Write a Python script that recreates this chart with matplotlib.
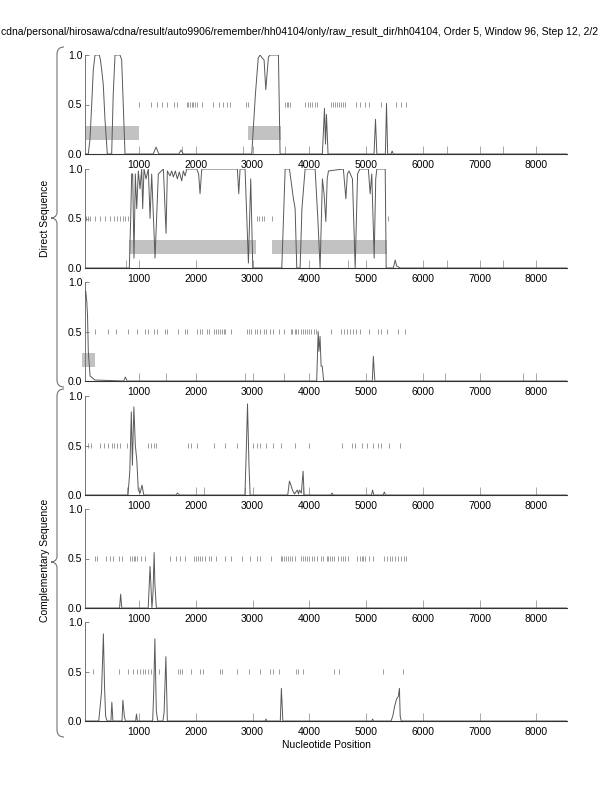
import matplotlib
matplotlib.use("Agg")
import matplotlib.pyplot as plt
from matplotlib.patches import Rectangle, PathPatch
from matplotlib.path import Path

plt.rcParams['font.family'] = ['Liberation Sans', 'DejaVu Sans']

title = "cdna/personal/hirosawa/cdna/result/auto9906/remember/hh04104/only/raw_result_dir/hh04104, Order 5, Window 96, Step 12, 2/2"
xticks = [1000, 2000, 3000, 4000, 5000, 6000, 7000, 8000]
yticks = [0.0, 0.5, 1.0]
ylabels = ["0.0", "0.5", "1.0"]
seq_start = 48
seq_end = 8540

# panel 1 (direct, frame 1)
p1_x = [48, 106, 136, 166, 194, 224, 300, 320, 342, 370, 400, 441, 518, 545, 577, 665, 694, 753,
        1250, 1300, 1350, 1700, 1740, 1780, 2986, 3050, 3100, 3133, 3170, 3203, 3233, 3280, 3309,
        3456, 3485, 4230, 4267, 4285, 4302, 4330, 5140, 5166, 5190, 5340, 5360, 5380, 5440, 5460,
        5480, 8540]
p1_y = [0, 0, 0.15, 0.5, 0.85, 1.0, 1.0, 0.95, 0.85, 0.7, 0.35, 0, 0, 0.6, 1.0, 1.0, 0.95, 0,
        0, 0.07, 0, 0, 0.04, 0, 0, 0.6, 0.97, 1.0, 0.97, 0.95, 0.65, 0.98, 1.0,
        1.0, 0, 0, 0.46, 0.1, 0.4, 0, 0, 0.35, 0, 0, 0.51, 0, 0, 0.03,
        0, 0]
p1_boxes = [(48, 1005), (2927, 3503)]
p1_marks = [1005, 1211, 1322, 1404, 1498, 1621, 1664, 1840, 1868, 1898, 1928, 1956, 1986, 2027,
            2115, 2299, 2415, 2486, 2546, 2604, 2886, 2916, 3574, 3604, 3632, 3661, 3924, 3970,
            4010, 4050, 4097, 4143, 4379, 4414, 4450, 4485, 4520, 4555, 4591, 4626, 4825, 4896,
            4984, 5060, 5261, 5525, 5614, 5695]
p1_minor = [1752, 2840, 3574, 6424, 7420]

# panel 2
p2_x = [48, 829, 853, 870, 888, 911, 935, 959, 988, 1017, 1047, 1064, 1088, 1123, 1164, 1194,
        1223, 1282, 1340, 1429, 1476, 1499, 1546, 1575, 1605, 1640, 1675, 1710, 1752, 1780, 1811,
        1840, 2016, 2050, 2075, 2105, 2733, 2757, 2780, 2868, 2927, 2968, 3004, 3515, 3545, 3574,
        3650, 3685, 3720, 3750, 3779, 3838, 3870, 3926, 4102, 4150, 4190, 4231, 4260, 4291, 4315,
        4337, 4600, 4644, 4670, 4700, 4760, 4808, 4850, 4890, 5040, 5072, 5100, 5143, 5170, 5190,
        5337, 5354, 5480, 5513, 5540, 5600, 8540]
p2_y = [0, 0, 0.5, 0.95, 0.95, 0.1, 0.95, 0.6, 0.98, 0.8, 1.0, 0.6, 1.0, 0.9, 1.0, 0.5,
        0.95, 0.1, 0.95, 1.0, 0.35, 0.98, 0.93, 0.98, 0.92, 0.98, 0.9, 0.97, 0.88, 0.98, 0.93,
        1.0, 1.0, 0.95, 0.75, 1.0, 1.0, 0.75, 1.0, 1.0, 0.05, 0.9, 0, 0, 0.5, 1.0,
        1.0, 0.85, 0.7, 0.6, 0, 0, 0.6, 1.0, 1.0, 0.5, 0, 0.9, 0.75, 0.47, 0.9,
        0.98, 1.0, 0.7, 0.95, 0.98, 0.9, 0, 0.95, 1.0, 1.0, 0.75, 0.95, 0.1, 0.9, 1.0,
        1.0, 0, 0, 0.08, 0.02, 0, 0]
p2_boxes = [(829, 3063), (3344, 5377)]
p2_marks = [65, 106, 136, 224, 312, 400, 488, 564, 617, 665, 712, 753, 811,
            3075, 3115, 3163, 3203, 3339, 5390]
p2_minor = [765, 4685, 6424, 7420]

# panel 3
p3_x = [48, 60, 80, 93, 106, 138, 222, 730, 760, 790, 4130, 4156, 4170, 4189, 4208, 4227, 4253,
        5110, 5128, 5154, 8540]
p3_y = [0.85, 0.91, 0.8, 0.65, 0.3, 0.05, 0.01, 0, 0.04, 0, 0, 0.5, 0.3, 0.45, 0.15, 0.15, 0,
        0, 0.25, 0, 0]
p3_boxes = [(0, 224)]
p3_marks = [222, 462, 592, 806, 968, 1097, 1162, 1259, 1324, 1454, 1486, 1680, 1810, 1842, 2017,
            2069, 2101, 2199, 2231, 2315, 2361, 2393, 2426, 2458, 2490, 2523, 2620, 2899, 2944,
            2976, 3041, 3087, 3138, 3203, 3236, 3301, 3365, 3462, 3547, 3676, 3702, 3741, 3767,
            3806, 3845, 3884, 3923, 3962, 4000, 4033, 4078, 4110, 4389, 4564, 4609, 4661, 4713,
            4765, 4817, 4888, 5050, 5212, 5257, 5374, 5555, 5685]
p3_minor = [1473, 2860, 3560, 6393, 7767]

# panel 4 (complementary)
p4_x = [48, 806, 838, 864, 883, 909, 935, 961, 987, 1020, 1052, 1084, 1650, 1680, 1710, 2866,
        2892, 2911, 2937, 2957, 3620, 3650, 3676, 3702, 3740, 3786, 3810, 3825, 3860, 3890, 3909,
        4380, 4402, 4420, 5095, 5115, 5135, 5300, 5322, 5340, 8540]
p4_y = [0, 0, 0.25, 0.84, 0.3, 0.89, 0.5, 0.35, 0.05, 0.02, 0.1, 0, 0, 0.02, 0, 0,
        0.5, 0.92, 0.3, 0, 0, 0.14, 0.1, 0.05, 0.01, 0.05, 0.01, 0.05, 0.02, 0.24, 0,
        0, 0.02, 0, 0, 0.05, 0, 0, 0.03, 0, 0]
p4_boxes = []
p4_marks = [93, 158, 320, 384, 462, 527, 566, 611, 657, 786, 1162, 1214, 1259, 1305, 1862, 1907,
            2017, 2315, 2523, 2730, 3015, 3074, 3138, 3236, 3365, 3508, 3754, 4000, 4583, 4758,
            4804, 4920, 5018, 5115, 5212, 5257, 5406, 5600]
p4_minor = [786, 2147, 2866, 3884]

# panel 5
p5_x = [48, 657, 676, 696, 1162, 1194, 1227, 1246, 1266, 1279, 1305, 8540]
p5_y = [0, 0, 0.14, 0, 0, 0.42, 0, 0.15, 0.56, 0.25, 0.0, 0]
p5_boxes = []
p5_marks = [222, 255, 417, 482, 546, 644, 708, 838, 870, 903, 935, 968, 1032, 1097, 1538, 1648,
            1713, 1810, 1972, 2004, 2037, 2069, 2102, 2166, 2231, 2264, 2361, 2523, 2620, 2814,
            2957, 3074, 3138, 3333, 3495, 3527, 3560, 3592, 3624, 3657, 3689, 3754, 3851, 3884,
            3916, 3961, 4000, 4046, 4078, 4143, 4208, 4240, 4305, 4337, 4370, 4402, 4434, 4499,
            4564, 4596, 4629, 4674, 4843, 4888, 4920, 4953, 4985, 5050, 5115, 5309, 5374, 5426,
            5465, 5504, 5569, 5620, 5666, 5698]
p5_minor = []

# panel 6
p6_x = [48, 290, 307, 340, 372, 392, 411, 437, 505, 521, 540, 700, 715, 741, 760, 940, 955, 970,
        1240, 1259, 1279, 1305, 1330, 1420, 1441, 1473, 1499, 3220, 3236, 3250, 3489, 3508, 3534,
        5100, 5115, 5130, 5440, 5471, 5504, 5536, 5569, 5588, 5601, 5620, 8540]
p6_y = [0, 0, 0.1, 0.3, 0.88, 0.35, 0.05, 0, 0, 0.19, 0, 0, 0.21, 0.05, 0, 0, 0.07, 0,
        0, 0.3, 0.83, 0.1, 0, 0, 0.08, 0.65, 0, 0, 0.02, 0, 0, 0.33, 0,
        0, 0.02, 0, 0, 0.05, 0.15, 0.22, 0.25, 0.33, 0.05, 0, 0]
p6_boxes = []
p6_marks = [190, 644, 806, 890, 968, 1019, 1065, 1110, 1162, 1214, 1356, 1680, 1713, 1758, 1907,
            2082, 2121, 2426, 2458, 2730, 2944, 3138, 3313, 3365, 3462, 3767, 3806, 3884, 4434,
            4531, 5296, 5646]
p6_minor = []

panels = [(p1_x, p1_y, p1_boxes, p1_marks, p1_minor),
          (p2_x, p2_y, p2_boxes, p2_marks, p2_minor),
          (p3_x, p3_y, p3_boxes, p3_marks, p3_minor),
          (p4_x, p4_y, p4_boxes, p4_marks, p4_minor),
          (p5_x, p5_y, p5_boxes, p5_marks, p5_minor),
          (p6_x, p6_y, p6_boxes, p6_marks, p6_minor)]

W, H = 612, 792
fig = plt.figure(figsize=(W / 100, H / 100), dpi=100)

# pixel row of the 0.0 line for each panel
bottoms_px = [154, 268, 381, 495, 608, 721]
left_px, right_px, height_px = 85, 567, 99

for (x, y, boxes, marks, minor), bpx in zip(panels, bottoms_px):
    ax = fig.add_axes([left_px / W, 1 - bpx / H, (right_px - left_px) / W, height_px / H])
    ax.set_xlim(seq_start, seq_end)
    ax.set_ylim(0, 1)
    ax.patch.set_alpha(0)
    for a, b in boxes:
        ax.add_patch(Rectangle((a, 0.14), b - a, 0.14, facecolor='0.76', edgecolor='none',
                               clip_on=False, zorder=1))
    ax.vlines(marks, 0.475, 0.525, color='0.55', lw=0.6, zorder=2)
    ax.plot(x, y, color='0.35', lw=0.7, zorder=3)
    ax.spines['top'].set_visible(False)
    ax.spines['right'].set_visible(False)
    ax.spines['left'].set_color('0.45')
    ax.spines['left'].set_linewidth(0.7)
    ax.spines['bottom'].set_color('0.2')
    ax.spines['bottom'].set_linewidth(0.8)
    ax.set_xticks(xticks)
    ax.set_xticklabels([str(t) for t in xticks])
    ax.set_xticks(minor, minor=True)
    ax.set_yticks(yticks)
    ax.set_yticklabels(ylabels)
    ax.tick_params(axis='x', which='both', direction='in', length=6, width=0.6, color='0.6',
                   labelsize=7.5, pad=4)
    ax.tick_params(axis='y', direction='in', length=3, width=0.6, color='0.45',
                   labelsize=7.5, pad=2)

fig.text(598 / W, 1 - 32 / H, title, ha='right', va='center', fontsize=7.5)
fig.text(326 / W, 1 - 745 / H, "Nucleotide Position", ha='center', va='center', fontsize=7.5)


def brace(ytop, ybot, ytip, xline=57, xend=64, xtip=51):
    # curly brace in pixel coordinates, converted to figure fraction
    ymid = ytip
    pts = [
        (xend, ytop), (xline, ytop), (xline, ytop + 7),
        (xline, ymid - 6),
        (xline, ymid - 1), (xtip + 2, ymid), (xtip, ymid),
        (xtip + 2, ymid), (xline, ymid + 1), (xline, ymid + 6),
        (xline, ybot - 7),
        (xline, ybot), (xend, ybot),
    ]
    codes = [Path.MOVETO, Path.CURVE3, Path.CURVE3,
             Path.LINETO,
             Path.CURVE4, Path.CURVE4, Path.CURVE4,
             Path.CURVE4, Path.CURVE4, Path.CURVE4,
             Path.LINETO,
             Path.CURVE3, Path.CURVE3]
    verts = [(px / W, 1 - py / H) for px, py in pts]
    fig.add_artist(PathPatch(Path(verts, codes), transform=fig.transFigure,
                             facecolor='none', edgecolor='0.45', lw=0.8))


brace(47, 387, 218)
brace(389, 737, 562)

fig.text(45 / W, 1 - 218 / H, "Direct Sequence", rotation=90, ha='center', va='center',
         fontsize=7.5)
fig.text(45 / W, 1 - 560 / H, "Complementary Sequence", rotation=90, ha='center', va='center',
         fontsize=7.5)

fig.savefig("out.png", dpi=100)
